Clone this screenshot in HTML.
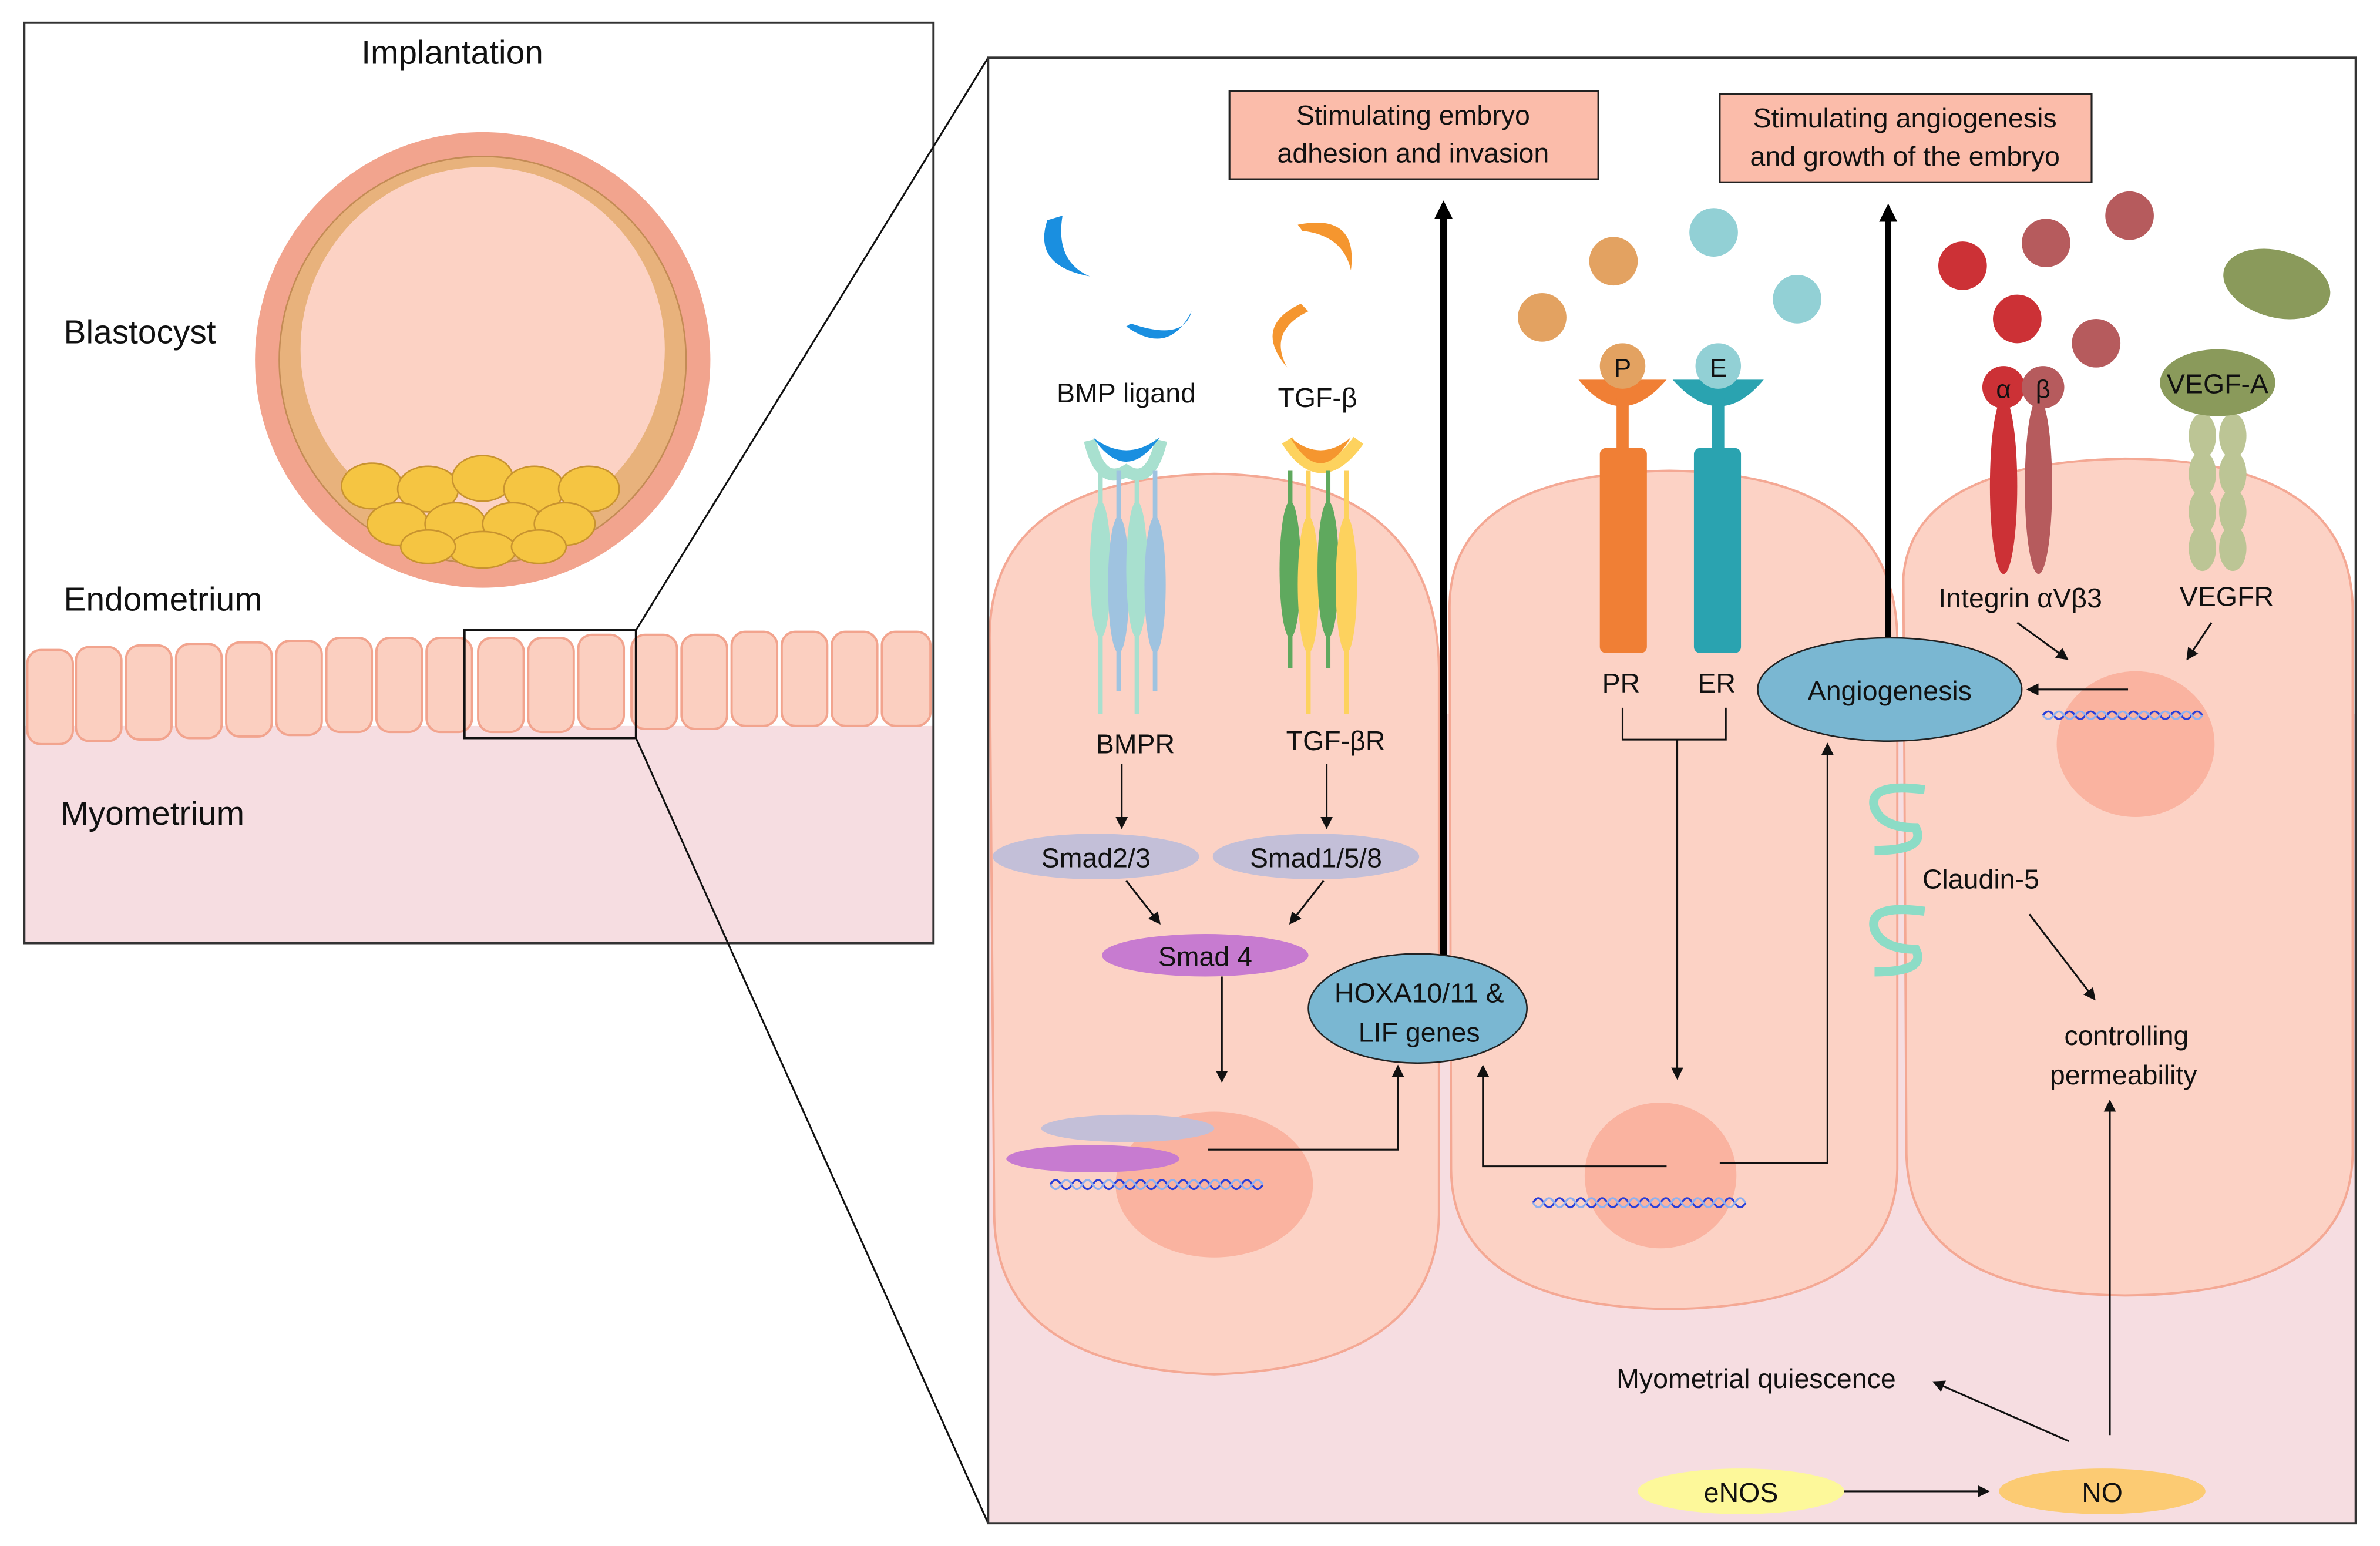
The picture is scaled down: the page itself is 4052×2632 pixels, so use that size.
<!DOCTYPE html>
<html><head><meta charset="utf-8"><style>
html,body{margin:0;padding:0;background:#fff}
svg{display:block}
text{font-family:"Liberation Sans",sans-serif;fill:#111}
</style></head><body>
<svg width="4052" height="2632" viewBox="0 0 1568 1018" preserveAspectRatio="none" xmlns="http://www.w3.org/2000/svg">
<defs>
<marker id="ah" markerWidth="8" markerHeight="8" refX="7" refY="4" orient="auto" markerUnits="userSpaceOnUse"><path d="M0,0 L8,4 L0,8 z" fill="#111"/></marker>
</defs>
<!-- Left panel -->
<rect x="16" y="15" width="599" height="606" fill="#fff"/>
<rect x="16" y="478" width="599" height="143" fill="#f6dde1"/>
<text x="298" y="42" font-size="22" text-anchor="middle">Implantation</text>
<text x="42" y="226" font-size="22">Blastocyst</text>
<text x="42" y="402" font-size="22">Endometrium</text>
<text x="40" y="543" font-size="22">Myometrium</text>
<circle cx="318" cy="237" r="150" fill="#f2a48e"/>
<circle cx="318" cy="237" r="134" fill="#e8b27c" stroke="#c38b55" stroke-width="1"/>
<circle cx="318" cy="230" r="120" fill="#fcd2c4"/>
<g fill="#f5c542" stroke="#c8932f" stroke-width="1">
<ellipse cx="245" cy="320" rx="20" ry="15"/><ellipse cx="282" cy="322" rx="20" ry="15"/><ellipse cx="318" cy="315" rx="20" ry="15"/><ellipse cx="352" cy="322" rx="20" ry="15"/><ellipse cx="388" cy="322" rx="20" ry="15"/>
<ellipse cx="262" cy="345" rx="20" ry="14"/><ellipse cx="300" cy="345" rx="20" ry="14"/><ellipse cx="338" cy="345" rx="20" ry="14"/><ellipse cx="372" cy="345" rx="20" ry="14"/>
<ellipse cx="318" cy="362" rx="22" ry="12"/><ellipse cx="282" cy="360" rx="18" ry="11"/><ellipse cx="355" cy="360" rx="18" ry="11"/>
</g>
<g fill="#fbcfc0" stroke="#f2a48e" stroke-width="1.5">
<rect x="18" y="428" width="30" height="62" rx="9"/><rect x="50" y="426" width="30" height="62" rx="9"/><rect x="83" y="425" width="30" height="62" rx="9"/><rect x="116" y="424" width="30" height="62" rx="9"/><rect x="149" y="423" width="30" height="62" rx="9"/><rect x="182" y="422" width="30" height="62" rx="9"/><rect x="215" y="420" width="30" height="62" rx="9"/><rect x="248" y="420" width="30" height="62" rx="9"/><rect x="281" y="420" width="30" height="62" rx="9"/><rect x="315" y="420" width="30" height="62" rx="9"/><rect x="348" y="420" width="30" height="62" rx="9"/><rect x="381" y="418" width="30" height="62" rx="9"/><rect x="416" y="418" width="30" height="62" rx="9"/><rect x="449" y="418" width="30" height="62" rx="9"/><rect x="482" y="416" width="30" height="62" rx="9"/><rect x="515" y="416" width="30" height="62" rx="9"/><rect x="548" y="416" width="30" height="62" rx="9"/><rect x="581" y="416" width="32" height="62" rx="9"/>
</g>
<rect x="16" y="15" width="599" height="606" fill="none" stroke="#333" stroke-width="1.5"/>
<rect x="306" y="415" width="113" height="71" fill="none" stroke="#111" stroke-width="1.5"/>
<line x1="419" y1="415" x2="651" y2="38" stroke="#111" stroke-width="1.2"/>
<line x1="419" y1="486" x2="651" y2="1003" stroke="#111" stroke-width="1.2"/>
<!-- Right panel -->
<rect x="651" y="38" width="901" height="965" fill="#fff"/>
<rect x="651" y="470" width="901" height="533" fill="#f6dde1"/>
<g fill="#fcd2c5" stroke="#f4a894" stroke-width="1.5">
<path d="M652,420 Q652,315 800,312 Q946,314 948,440 L948,800 Q946,900 800,905 Q656,900 655,800 Z"/>
<path d="M955,400 Q955,312 1100,310 Q1248,312 1250,420 L1250,770 Q1248,860 1100,862 Q957,860 956,770 Z"/>
<path d="M1254,380 Q1260,305 1400,302 Q1548,303 1550,400 L1550,760 Q1548,852 1400,853 Q1258,852 1256,760 Z"/>
</g>
<g fill="#fab3a0"><ellipse cx="800" cy="780" rx="65" ry="48"/><ellipse cx="1094" cy="774" rx="50" ry="48"/><ellipse cx="1407" cy="490" rx="52" ry="48"/></g>
<rect x="651" y="38" width="901" height="965" fill="none" stroke="#333" stroke-width="1.5"/>
<!-- top boxes -->
<rect x="810" y="60" width="243" height="58" fill="#fbbcaa" stroke="#222" stroke-width="1.2"/>
<text x="931" y="82" font-size="18" text-anchor="middle">Stimulating embryo</text>
<text x="931" y="107" font-size="18" text-anchor="middle">adhesion and invasion</text>
<rect x="1133" y="62" width="245" height="58" fill="#fbbcaa" stroke="#222" stroke-width="1.2"/>
<text x="1255" y="84" font-size="18" text-anchor="middle">Stimulating angiogenesis</text>
<text x="1255" y="109" font-size="18" text-anchor="middle">and growth of the embryo</text>
<line x1="951" y1="630" x2="951" y2="140" stroke="#000" stroke-width="5"/><path d="M945,144 L951,132 L957,144 z"/>
<line x1="1244" y1="420" x2="1244" y2="144" stroke="#000" stroke-width="4"/><path d="M1238,146 L1244,134 L1250,146 z"/>
<!-- ligands -->
<path d="M690,145 Q680,175 718,182 Q695,172 700,142 z" fill="#1a8fe0"/>
<path d="M742,215 Q770,235 785,205 Q780,225 745,213 z" fill="#1a8fe0"/>
<path d="M855,148 Q895,140 890,178 Q885,155 858,152 z" fill="#f5962f"/>
<path d="M857,200 Q825,215 848,242 Q835,218 862,205 z" fill="#f5962f"/>
<g fill="#e3a261"><circle cx="1016" cy="209" r="16"/><circle cx="1063" cy="172" r="16"/></g>
<g fill="#92d0d5"><circle cx="1129" cy="153" r="16"/><circle cx="1184" cy="197" r="16"/></g>
<circle cx="1293" cy="175" r="16" fill="#cc3136"/><circle cx="1348" cy="160" r="16" fill="#b65b5d"/><circle cx="1403" cy="142" r="16" fill="#b65b5d"/><circle cx="1329" cy="210" r="16" fill="#cc3136"/><circle cx="1381" cy="226" r="16" fill="#b65b5d"/>
<ellipse cx="1500" cy="187" rx="36" ry="22" fill="#8a9a5b" transform="rotate(15 1500 187)"/>
<text x="742" y="265" font-size="18" text-anchor="middle">BMP ligand</text>
<text x="868" y="268" font-size="18" text-anchor="middle">TGF-β</text>
<!-- BMPR -->
<g>
<path d="M718,290 Q725,320 742,310 Q758,320 765,290" fill="none" stroke="#a8e0cf" stroke-width="8"/>
<path d="M720,288 Q742,320 764,288 Q742,305 720,288z" fill="#1a8fe0"/>
<g stroke-width="3"><line x1="725" y1="310" x2="725" y2="470" stroke="#a8e0cf"/><line x1="737" y1="310" x2="737" y2="455" stroke="#9fc3e0"/><line x1="749" y1="310" x2="749" y2="470" stroke="#a8e0cf"/><line x1="761" y1="310" x2="761" y2="455" stroke="#9fc3e0"/></g>
<ellipse cx="725" cy="375" rx="7" ry="45" fill="#a8e0cf"/><ellipse cx="737" cy="385" rx="7" ry="45" fill="#9fc3e0"/><ellipse cx="749" cy="375" rx="7" ry="45" fill="#a8e0cf"/><ellipse cx="761" cy="385" rx="7" ry="45" fill="#9fc3e0"/>
</g>
<g>
<path d="M848,290 Q870,325 895,290" fill="none" stroke="#fdd25e" stroke-width="8"/>
<path d="M850,288 Q870,322 890,288 Q870,305 850,288z" fill="#f5962f"/>
<g stroke-width="3"><line x1="850" y1="310" x2="850" y2="440" stroke="#5fa95e"/><line x1="862" y1="310" x2="862" y2="470" stroke="#fdd25e"/><line x1="875" y1="310" x2="875" y2="440" stroke="#5fa95e"/><line x1="887" y1="310" x2="887" y2="470" stroke="#fdd25e"/></g>
<ellipse cx="850" cy="375" rx="7" ry="45" fill="#5fa95e"/><ellipse cx="862" cy="385" rx="7" ry="45" fill="#fdd25e"/><ellipse cx="875" cy="375" rx="7" ry="45" fill="#5fa95e"/><ellipse cx="887" cy="385" rx="7" ry="45" fill="#fdd25e"/>
</g>
<text x="748" y="496" font-size="18" text-anchor="middle">BMPR</text>
<text x="880" y="494" font-size="18" text-anchor="middle">TGF-βR</text>
<!-- PR / ER -->
<path d="M1040,250 Q1068,285 1098,250 Z" fill="#f07f35"/><rect x="1065" y="262" width="8" height="40" fill="#f07f35"/><rect x="1054" y="295" width="31" height="135" rx="4" fill="#f07f35"/>
<circle cx="1069" cy="241" r="15" fill="#e3a261"/><text x="1069" y="248" font-size="17" text-anchor="middle">P</text>
<path d="M1102,250 Q1133,285 1162,250 Z" fill="#2aa3b0"/><rect x="1128" y="262" width="8" height="40" fill="#2aa3b0"/><rect x="1116" y="295" width="31" height="135" rx="4" fill="#2aa3b0"/>
<circle cx="1132" cy="241" r="15" fill="#92d0d5"/><text x="1132" y="248" font-size="17" text-anchor="middle">E</text>
<text x="1068" y="456" font-size="18" text-anchor="middle">PR</text>
<text x="1131" y="456" font-size="18" text-anchor="middle">ER</text>
<!-- integrin -->
<ellipse cx="1320" cy="320" rx="9" ry="58" fill="#cc3136"/><ellipse cx="1343" cy="320" rx="9" ry="58" fill="#b65b5d"/>
<circle cx="1320" cy="255" r="14" fill="#cc3136"/><circle cx="1346" cy="255" r="14" fill="#b65b5d"/>
<text x="1320" y="262" font-size="17" text-anchor="middle">α</text><text x="1346" y="262" font-size="17" text-anchor="middle">β</text>
<g fill="#bcc595"><ellipse cx="1451" cy="287" rx="9" ry="15"/><ellipse cx="1471" cy="287" rx="9" ry="15"/><ellipse cx="1451" cy="312" rx="9" ry="15"/><ellipse cx="1471" cy="312" rx="9" ry="15"/><ellipse cx="1451" cy="337" rx="9" ry="15"/><ellipse cx="1471" cy="337" rx="9" ry="15"/><ellipse cx="1451" cy="361" rx="9" ry="15"/><ellipse cx="1471" cy="361" rx="9" ry="15"/></g>
<ellipse cx="1461" cy="252" rx="38" ry="22" fill="#8a9a5b"/>
<text x="1461" y="259" font-size="18" text-anchor="middle">VEGF-A</text>
<text x="1331" y="400" font-size="18" text-anchor="middle">Integrin αVβ3</text>
<text x="1467" y="399" font-size="18" text-anchor="middle">VEGFR</text>
<!-- Smads -->
<ellipse cx="722" cy="564" rx="68" ry="15" fill="#c3bfd8"/><text x="722" y="571" font-size="18" text-anchor="middle">Smad2/3</text>
<ellipse cx="867" cy="564" rx="68" ry="15" fill="#c3bfd8"/><text x="867" y="571" font-size="18" text-anchor="middle">Smad1/5/8</text>
<ellipse cx="794" cy="629" rx="68" ry="14" fill="#c77bd0"/><text x="794" y="636" font-size="18" text-anchor="middle">Smad 4</text>
<ellipse cx="934" cy="664" rx="72" ry="36" fill="#7ab7d2" stroke="#222" stroke-width="1"/>
<text x="935" y="660" font-size="18" text-anchor="middle">HOXA10/11 &amp;</text><text x="935" y="686" font-size="18" text-anchor="middle">LIF genes</text>
<ellipse cx="1245" cy="454" rx="87" ry="34" fill="#7ab7d2" stroke="#222" stroke-width="1"/>
<text x="1245" y="461" font-size="18" text-anchor="middle">Angiogenesis</text>
<ellipse cx="743" cy="743" rx="57" ry="9" fill="#c3bfd8"/><ellipse cx="720" cy="763" rx="57" ry="9" fill="#c77bd0"/>
<g fill="none" stroke-width="1.3">
<path d="M692,780 q3.5,-6 7,0 t7,0 t7,0 t7,0 t7,0 t7,0 t7,0 t7,0 t7,0 t7,0 t7,0 t7,0 t7,0 t7,0 t7,0 t7,0 t7,0 t7,0 t7,0 t7,0" stroke="#2a3fd6"/>
<path d="M692,780 q3.5,6 7,0 t7,0 t7,0 t7,0 t7,0 t7,0 t7,0 t7,0 t7,0 t7,0 t7,0 t7,0 t7,0 t7,0 t7,0 t7,0 t7,0 t7,0 t7,0 t7,0" stroke="#8fb0f0"/>
<path d="M1010,792 q3.5,-6 7,0 t7,0 t7,0 t7,0 t7,0 t7,0 t7,0 t7,0 t7,0 t7,0 t7,0 t7,0 t7,0 t7,0 t7,0 t7,0 t7,0 t7,0 t7,0 t7,0" stroke="#2a3fd6"/>
<path d="M1010,792 q3.5,6 7,0 t7,0 t7,0 t7,0 t7,0 t7,0 t7,0 t7,0 t7,0 t7,0 t7,0 t7,0 t7,0 t7,0 t7,0 t7,0 t7,0 t7,0 t7,0 t7,0" stroke="#8fb0f0"/>
<path d="M1346,471 q3.5,-5 7,0 t7,0 t7,0 t7,0 t7,0 t7,0 t7,0 t7,0 t7,0 t7,0 t7,0 t7,0 t7,0 t7,0 t7,0" stroke="#2a3fd6"/>
<path d="M1346,471 q3.5,5 7,0 t7,0 t7,0 t7,0 t7,0 t7,0 t7,0 t7,0 t7,0 t7,0 t7,0 t7,0 t7,0 t7,0 t7,0" stroke="#8fb0f0"/>
</g>
<!-- claudin -->
<g fill="none" stroke="#8cdcc6" stroke-width="6"><path d="M1268,520 Q1230,515 1235,532 Q1240,545 1262,545 Q1270,560 1235,560"/><path d="M1268,600 Q1230,595 1235,612 Q1240,625 1262,625 Q1270,640 1235,640"/></g>
<text x="1305" y="585" font-size="18" text-anchor="middle">Claudin-5</text>
<text x="1401" y="688" font-size="18" text-anchor="middle">controlling</text>
<text x="1399" y="714" font-size="18" text-anchor="middle">permeability</text>
<text x="1157" y="914" font-size="18" text-anchor="middle">Myometrial quiescence</text>
<ellipse cx="1147" cy="982" rx="68" ry="15" fill="#fdf89a"/><text x="1147" y="989" font-size="18" text-anchor="middle">eNOS</text>
<ellipse cx="1385" cy="982" rx="68" ry="15" fill="#fccb73"/><text x="1385" y="989" font-size="18" text-anchor="middle">NO</text>
<!-- arrows -->
<polyline points="1069,466 1069,487 1137,487 1137,466" stroke="#111" stroke-width="1.2" fill="none"/>
<g stroke="#111" stroke-width="1.2" fill="none" marker-end="url(#ah)">
<line x1="739" y1="503" x2="739" y2="545"/>
<line x1="874" y1="503" x2="874" y2="545"/>
<line x1="742" y1="580" x2="764" y2="608"/>
<line x1="872" y1="580" x2="850" y2="608"/>
<line x1="805" y1="643" x2="805" y2="712"/>
<polyline points="796,757 921,757 921,702"/>
<polyline points="1098,768 977,768 977,702"/>
<polyline points="1133,766 1204,766 1204,490"/>
<line x1="1105" y1="487" x2="1105" y2="710"/>
<line x1="1402" y1="454" x2="1336" y2="454"/>
<line x1="1329" y1="410" x2="1362" y2="434"/>
<line x1="1457" y1="410" x2="1441" y2="434"/>
<line x1="1337" y1="602" x2="1380" y2="658"/>
<line x1="1215" y1="982" x2="1310" y2="982"/>
<line x1="1390" y1="945" x2="1390" y2="725"/>
<line x1="1363" y1="949" x2="1274" y2="910"/>
</g>
</svg>
</body></html>
